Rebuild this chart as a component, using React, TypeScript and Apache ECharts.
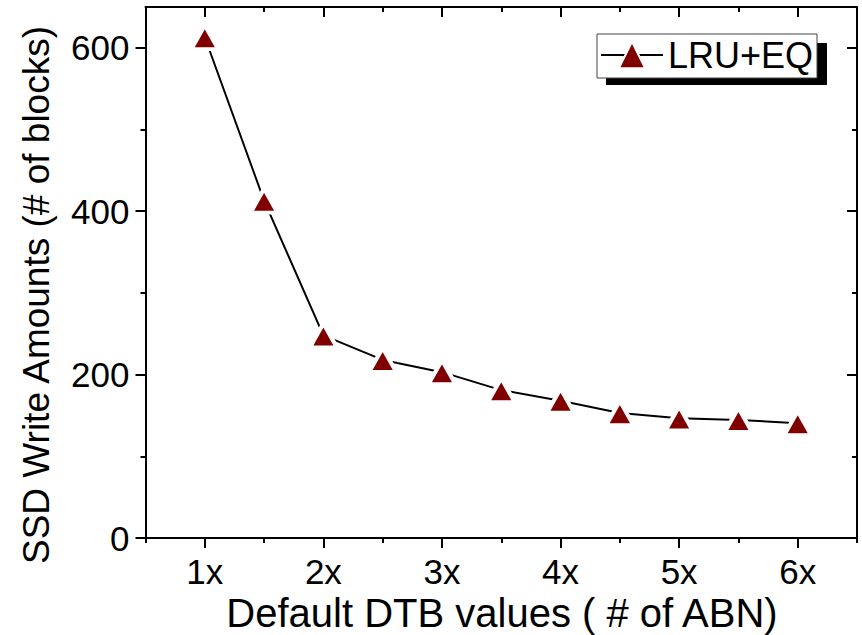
import React, { useEffect, useRef } from "react";
import * as echarts from "echarts";

const xValues = [1, 1.5, 2, 2.5, 3, 3.5, 4, 4.5, 5, 5.5, 6];
const lruEq = [613, 413, 248, 218, 203, 181, 168, 153, 146.5, 144.5, 140.5];
const xMajorTicks = [1, 2, 3, 4, 5, 6];
const xMinorTicksBottom = [0.5, 1.5, 2.5, 3.5, 4.5, 5.5, 6.5];
const xMinorTicksTop = [1.5, 2.5, 3.5, 4.5, 5.5];
const yMajorTicks = [0, 200, 400, 600];
const yMinorTicks = [100, 300, 500];
const seriesName = "LRU+EQ";
const xTitle = "Default DTB values ( # of ABN)";
const yTitle = "SSD Write Amounts (# of blocks)";

const FONT = "'Liberation Sans', Arial, sans-serif";
const RED = "#800000";

export default function App() {
  const ref = useRef<HTMLDivElement>(null);
  useEffect(() => {
    if (!ref.current) return;
    const chart = echarts.init(ref.current, null, { renderer: "svg" });
    const X_MIN = 0.5, X_MAX = 6.5, Y_MIN = 0, Y_MAX = 650;
    const line = { color: "#000", width: 2 };
    const xBase = (extra: any) => ({
      type: "value",
      min: X_MIN,
      max: X_MAX,
      splitLine: { show: false },
      ...extra,
    });
    const yBase = (extra: any) => ({
      type: "value",
      min: Y_MIN,
      max: Y_MAX,
      splitLine: { show: false },
      ...extra,
    });
    const option: any = {
      animation: false,
      backgroundColor: "#fff",
      grid: { left: 145.5, right: 5, top: 7, bottom: 97, containLabel: false },
      xAxis: [
        xBase({
          position: "bottom",
          axisLine: { show: true, onZero: false, lineStyle: line },
          axisTick: { show: true, length: 10, lineStyle: line, customValues: xMajorTicks },
          axisLabel: {
            show: true,
            customValues: xMajorTicks,
            formatter: (v: number) => `${v}x`,
            fontSize: 35,
            color: "#000",
            fontFamily: FONT,
            margin: 16,
          },
        }),
        xBase({
          position: "bottom",
          axisLine: { show: false, onZero: false },
          axisTick: { show: true, length: 5, lineStyle: line, customValues: xMinorTicksBottom },
          axisLabel: { show: false },
        }),
        xBase({
          position: "top",
          axisLine: { show: true, onZero: false, lineStyle: line },
          axisTick: { show: true, inside: true, length: 10, lineStyle: line, customValues: xMajorTicks },
          axisLabel: { show: false },
        }),
        xBase({
          position: "top",
          axisLine: { show: false, onZero: false },
          axisTick: { show: true, inside: true, length: 5, lineStyle: line, customValues: xMinorTicksTop },
          axisLabel: { show: false },
        }),
      ],
      yAxis: [
        yBase({
          position: "left",
          axisLine: { show: true, onZero: false, lineStyle: line },
          axisTick: { show: true, length: 10, lineStyle: line, customValues: yMajorTicks },
          axisLabel: {
            show: true,
            customValues: yMajorTicks,
            fontSize: 35,
            color: "#000",
            fontFamily: FONT,
            margin: 16,
          },
        }),
        yBase({
          position: "left",
          axisLine: { show: false, onZero: false },
          axisTick: { show: true, length: 5, lineStyle: line, customValues: yMinorTicks },
          axisLabel: { show: false },
        }),
        yBase({
          position: "right",
          axisLine: { show: true, onZero: false, lineStyle: line },
          axisTick: { show: true, inside: true, length: 10, lineStyle: line, customValues: yMajorTicks },
          axisLabel: { show: false },
        }),
        yBase({
          position: "right",
          axisLine: { show: false, onZero: false },
          axisTick: { show: true, inside: true, length: 5, lineStyle: line, customValues: yMinorTicks },
          axisLabel: { show: false },
        }),
      ],
      legend: {
        show: true,
        data: [seriesName],
        left: 600,
        top: 37,
        padding: 0,
        itemWidth: 62,
        itemHeight: 33,
        z: 10,
        textStyle: { fontSize: 36, color: "#000", fontFamily: FONT },
      },
      graphic: [
        { type: "rect", z: 1, shape: { x: 606, y: 43, width: 221, height: 42 }, style: { fill: "#000" } },
        {
          type: "rect",
          z: 2,
          shape: { x: 597, y: 34, width: 220, height: 44 },
          style: { fill: "#fff", stroke: "#444", lineWidth: 1 },
        },
        {
          type: "text",
          x: 502,
          y: 613,
          style: {
            text: xTitle,
            fontSize: 40,
            fontFamily: FONT,
            fill: "#000",
            align: "center",
            verticalAlign: "middle",
          },
        },
        {
          type: "text",
          x: 36,
          y: 295,
          rotation: Math.PI / 2,
          style: {
            text: yTitle,
            fontSize: 37,
            fontFamily: FONT,
            fill: "#000",
            align: "center",
            verticalAlign: "middle",
          },
        },
      ],
      series: [
        {
          name: seriesName,
          type: "line",
          xAxisIndex: 0,
          yAxisIndex: 0,
          data: xValues.map((x, i) => [x, lruEq[i]]),
          symbol: "triangle",
          symbolSize: [27, 24],
          showAllSymbol: true,
          lineStyle: { color: "#000", width: 2 },
          itemStyle: { color: RED, borderColor: "#fff", borderWidth: 4 },
          z: 5,
        },
      ],
    };
    chart.setOption(option);
    return () => chart.dispose();
  }, []);
  return (
    <div
      ref={ref}
      style={{ position: "fixed", left: 0, top: 0, width: 862, height: 635, background: "#fff" }}
    />
  );
}
